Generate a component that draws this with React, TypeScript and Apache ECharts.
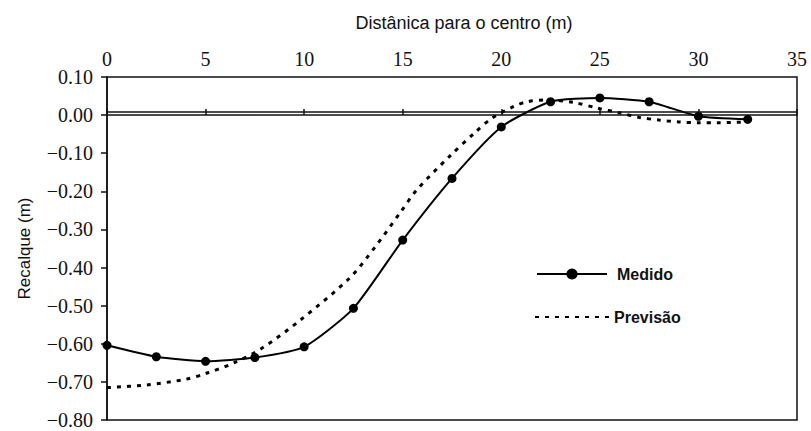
import React, { useEffect, useRef } from "react";
import * as echarts from "echarts";

// Distance ticks and measured settlement ("Medido")
const medidoX = [0, 2.5, 5, 7.5, 10, 12.5, 15, 17.5, 20, 22.5, 25, 27.5, 30, 32.5];
const medidoY = [-0.604, -0.634, -0.646, -0.636, -0.608, -0.507, -0.328, -0.166, -0.031, 0.035, 0.045, 0.035, -0.003, -0.011];

// Predicted settlement ("Previsão")
const previsaoX = [0, 2, 4, 5, 6.4, 7.85, 9.8, 12.3, 13.6, 14.9, 15.7, 17.4, 18.7, 19.5, 20.6, 21.3, 22.3, 23.7, 24.9, 26, 27, 28, 29, 30, 31, 32.5];
const previsaoY = [-0.715, -0.708, -0.693, -0.678, -0.651, -0.612, -0.538, -0.428, -0.346, -0.254, -0.197, -0.107, -0.044, -0.009, 0.022, 0.035, 0.04, 0.033, 0.018, 0.006, -0.006, -0.013, -0.018, -0.02, -0.02, -0.018];

const referenceLine = 0.006;

const xTitle = "Distânica para o centro (m)";
const yTitle = "Recalque (m)";
const serieNames = ["Medido", "Previsão"];

const serif = "Liberation Serif";
const sans = "Liberation Sans";

export default function App() {
  const ref = useRef<HTMLDivElement>(null);

  useEffect(() => {
    if (!ref.current) return;
    const chart = echarts.init(ref.current, null, { renderer: "svg" });
    const fmt = (v: number) => {
      const a = Math.abs(v).toFixed(2);
      return (v < -1e-9 ? "\u2212" : "") + a;
    };
    chart.setOption({
      animation: false,
      backgroundColor: "#fff",
      grid: {
        left: 107,
        right: 14,
        top: 77,
        bottom: 11,
        show: true,
        borderColor: "#111",
        borderWidth: 1.5,
      },
      legend: [
        {
          data: [serieNames[0]],
          left: 531,
          top: 261,
          itemWidth: 70,
          itemHeight: 14,
          textStyle: { fontFamily: sans, fontSize: 16, fontWeight: "bold", color: "#111", padding: [0, 0, 0, 5] },
        },
        {
          data: [{ name: serieNames[1], itemStyle: { opacity: 0 } }],
          left: 529,
          top: 304,
          itemWidth: 74,
          itemHeight: 14,
          textStyle: { fontFamily: sans, fontSize: 16, fontWeight: "bold", color: "#111", padding: [0, 0, 0, 0] },
        },
      ],
      xAxis: {
        type: "value",
        position: "top",
        min: 0,
        max: 35,
        interval: 5,
        name: xTitle,
        nameLocation: "middle",
        nameGap: 45,
        nameTextStyle: { fontFamily: sans, fontSize: 18, color: "#111", padding: [0, 0, 0, 24] },
        axisLine: { show: true, lineStyle: { color: "#111", width: 1.5 } },
        axisTick: { show: true, inside: false, length: 6, lineStyle: { color: "#111", width: 1.5 } },
        axisLabel: { fontFamily: serif, fontSize: 20, color: "#111", margin: 8 },
        splitLine: { show: false },
      },
      yAxis: {
        type: "value",
        min: -0.8,
        max: 0.1,
        interval: 0.1,
        name: yTitle,
        nameLocation: "middle",
        nameGap: 74,
        nameTextStyle: { fontFamily: sans, fontSize: 17, color: "#111" },
        axisLine: { show: true, lineStyle: { color: "#111", width: 1.5 } },
        axisTick: { show: true, inside: false, length: 6, lineStyle: { color: "#111", width: 1.5 } },
        axisLabel: { fontFamily: serif, fontSize: 20, color: "#111", margin: 14, formatter: fmt },
        splitLine: { show: false },
      },
      series: [
        {
          name: serieNames[0],
          type: "line",
          data: medidoX.map((x, i) => [x, medidoY[i]]),
          smooth: 0.2,
          symbol: "circle",
          symbolSize: 9,
          itemStyle: { color: "#000" },
          lineStyle: { color: "#000", width: 2 },
          markLine: {
            silent: true,
            symbol: "none",
            label: { show: false },
            lineStyle: { color: "#111", width: 1.5, type: "solid" },
            data: [{ yAxis: referenceLine }],
          },
          z: 3,
        },
        {
          name: serieNames[1],
          type: "line",
          data: previsaoX.map((x, i) => [x, previsaoY[i]]),
          smooth: 0.3,
          symbol: "none",
          itemStyle: { color: "#000" },
          lineStyle: { color: "#000", width: 3, type: [4, 6] },
          z: 2,
        },
      ],
    });
    return () => chart.dispose();
  }, []);

  return (
    <div
      ref={ref}
      style={{ position: "fixed", left: 0, top: 0, width: 811, height: 431, background: "#fff" }}
    />
  );
}
